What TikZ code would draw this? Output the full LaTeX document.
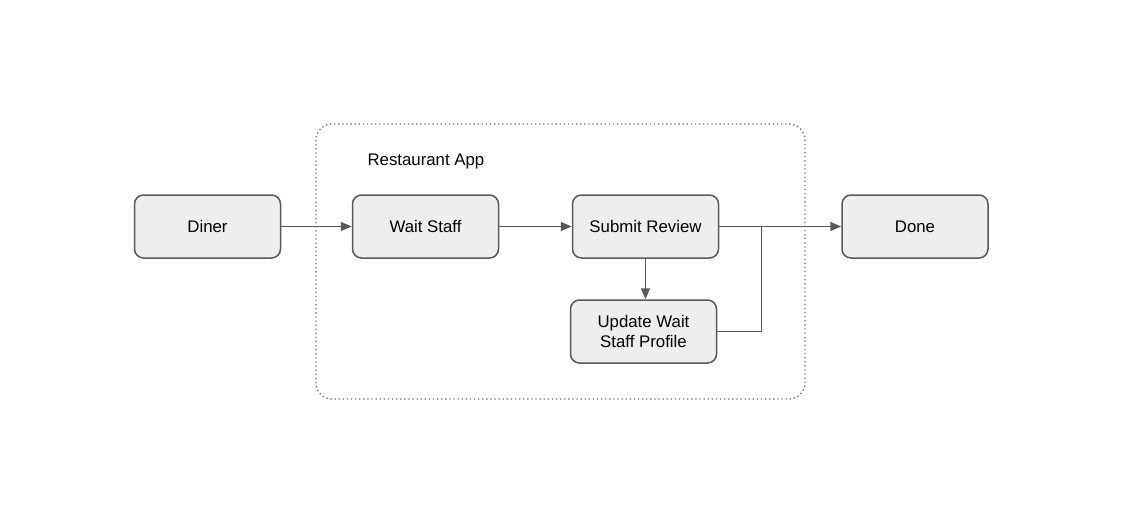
\documentclass[tikz,border=0pt]{standalone}
\usepackage{fontspec}
\setmainfont{Liberation Sans}
\usetikzlibrary{arrows.meta}
\definecolor{strokegray}{HTML}{595959}
\definecolor{boxfill}{HTML}{EEEEEE}
\definecolor{dotgray}{HTML}{707070}
\tikzset{
  x=1pt, y=-1pt,
  box/.style={draw=strokegray, line width=1.5pt, fill=boxfill, rounded corners=9pt,
    minimum width=146pt, minimum height=63pt, inner sep=0pt, align=center,
    font=\fontsize{16.8}{20}\selectfont},
  conn/.style={draw=strokegray, line width=1.5pt},
  arr/.style={conn, -{Triangle[length=11pt,width=9pt]}},
  container/.style={draw=dotgray, line width=1.4pt, dash pattern=on 1.3pt off 2.8pt, rounded corners=16pt}
}
\begin{document}
\begin{tikzpicture}
\useasboundingbox (0,0) rectangle (1122,520);
\draw[container] (316,124) rectangle (805,399);
\node[anchor=west, font=\fontsize{16.8}{20}\selectfont] (title) at (364,161) {Restaurant App};
\node[box] (diner) at (207.5,226.5) {Diner};
\node[box] (wait) at (425.5,226.5) {Wait Staff};
\node[box] (submit) at (645.5,226.5) {Submit Review};
\node[box] (update) at (643.5,331.5) {Update Wait\\Staff Profile};
\node[box] (done) at (915,226.5) {Done};
\coordinate (join) at (761.5,226.5);
\draw[arr] (diner) -- (wait);
\draw[arr] (wait) -- (submit);
\draw[arr] (submit.south) -- (submit.south |- update.north);
\draw[arr] (submit) -- (done);
\draw[conn] (update.east) -| (join);
\end{tikzpicture}
\end{document}
